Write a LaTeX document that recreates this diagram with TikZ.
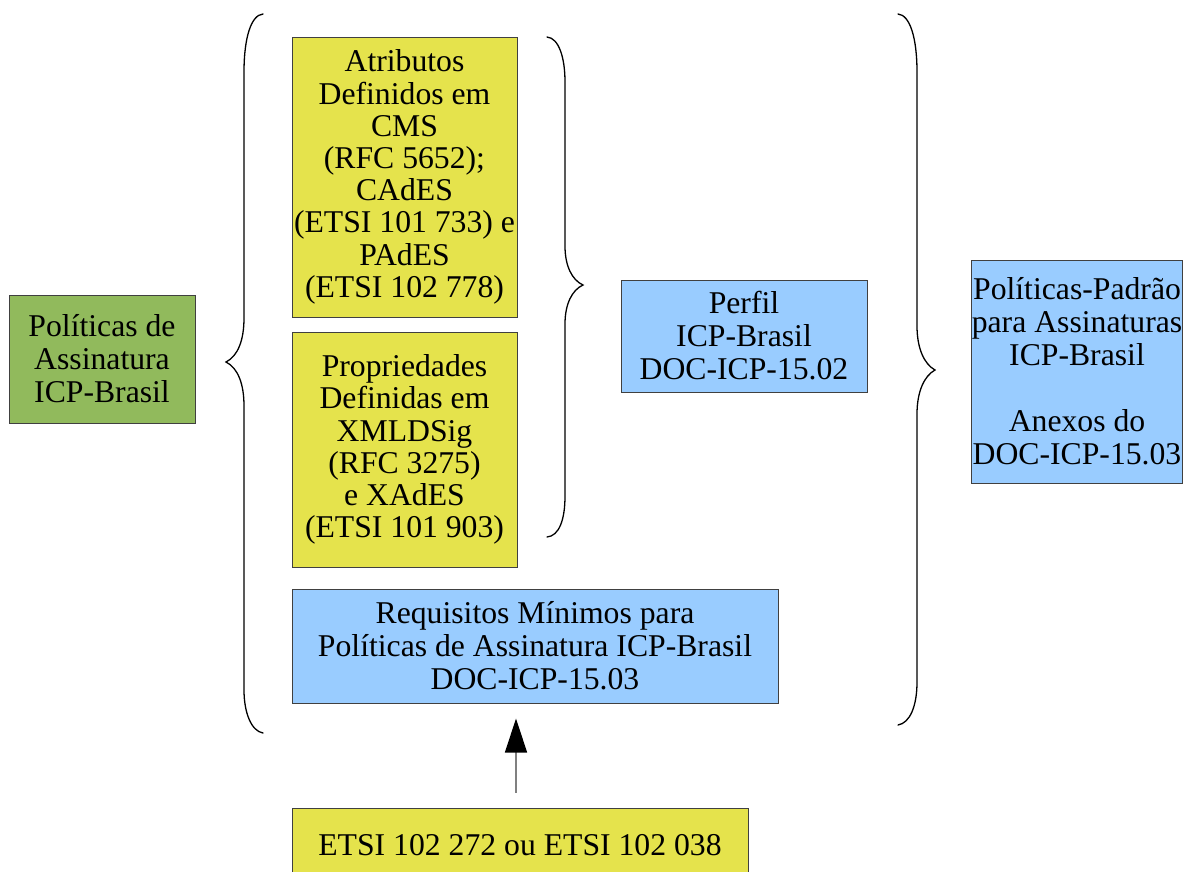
\documentclass[tikz,border=0pt]{standalone}
\usepackage{fontspec}
\setmainfont{Liberation Serif}
\usepackage{tikz}
\usetikzlibrary{arrows.meta}
\usetikzlibrary{calc}
\tikzset{bloco/.style = {draw = mborda, line width = 1pt, inner sep = 0, align = center,
    font = \fontsize{31.7}{33}\selectfont}}
\tikzset{chave/.style = {line width = 1.3pt, line cap = round}}
\tikzset{seta/.style = {mcinza, line width = 1.5pt,
    -{Triangle[width = 22pt, length = 34pt, color = black]}}}
\definecolor{mverde}{rgb}{0.57, 0.73, 0.36}
\definecolor{mamarelo}{rgb}{0.9, 0.89, 0.3}
\definecolor{mazul}{rgb}{0.6, 0.8, 1}
\definecolor{mborda}{rgb}{0.25, 0.25, 0.25}
\definecolor{mcinza}{rgb}{0.5, 0.5, 0.5}

\begin{document}
\begin{tikzpicture}[x = 1pt, y = -1pt]
      \useasboundingbox (0, 0) rectangle (1185, 871);

      \node [bloco, fill = mverde, minimum width = 186, minimum height = 128] (pol) at (102, 359)
        {Políticas de\\Assinatura\\ICP-Brasil};
      \node [bloco, fill = mamarelo, minimum width = 225, minimum height = 280,
        font = \fontsize{31.7}{32.2}\selectfont] (atr) at (404.5, 177)
        {Atributos\\Definidos em\\CMS\\(RFC 5652);\\CAdES\\(ETSI 101 733) e\\PAdES\\(ETSI 102 778)};
      \node [bloco, fill = mamarelo, minimum width = 225, minimum height = 235,
        font = \fontsize{31.7}{32.2}\selectfont] (prop) at (404.5, 449.5)
        {Propriedades\\Definidas em\\XMLDSig\\(RFC 3275)\\e XAdES\\(ETSI 101 903)};
      \node [bloco, fill = mazul, minimum width = 246, minimum height = 112] (perfil) at (744, 336)
        {Perfil\\ICP-Brasil\\DOC-ICP-15.02};
      \node [bloco, fill = mazul, minimum width = 486, minimum height = 114] (req) at (535, 646)
        {Requisitos Mínimos para\\Políticas de Assinatura ICP-Brasil\\DOC-ICP-15.03};
      \node [bloco, fill = mazul, minimum width = 210, minimum height = 223] (pad) at (1077, 371.5)
        {Políticas-Padrão\\para Assinaturas\\ICP-Brasil\\[33pt]Anexos do\\DOC-ICP-15.03};
      \node [bloco, fill = mamarelo, minimum width = 456, minimum height = 74] (etsi) at (520, 845)
        {ETSI 102 272 ou ETSI 102 038};

      % chaves
      \draw [chave] (263, 14) .. controls (251, 15) and (244, 38) .. (244, 72) -- (244, 318)
        .. controls (244, 340) and (238, 356) .. (226, 362)
        .. controls (238, 368) and (244, 384) .. (244, 406) -- (244, 690)
        .. controls (244, 712) and (251, 731) .. (263, 733);
      \draw [chave] (547, 37) .. controls (559, 38) and (565, 58) .. (565, 82) -- (565, 246)
        .. controls (565, 266) and (572, 280) .. (583, 285)
        .. controls (572, 290) and (565, 304) .. (565, 324) -- (565, 496)
        .. controls (565, 520) and (559, 536) .. (547, 537);
      \draw [chave] (898, 14) .. controls (910, 15) and (917, 38) .. (917, 72) -- (917, 326)
        .. controls (917, 348) and (924, 364) .. (935, 370)
        .. controls (924, 376) and (917, 392) .. (917, 414) -- (917, 682)
        .. controls (917, 706) and (910, 723) .. (898, 725);

      \draw [seta, shorten <= 15pt, shorten >= 15pt] ([xshift = -4pt] etsi.north) -- ([xshift = -4pt] etsi.north |- req.south);
    \end{tikzpicture}
\end{document}
